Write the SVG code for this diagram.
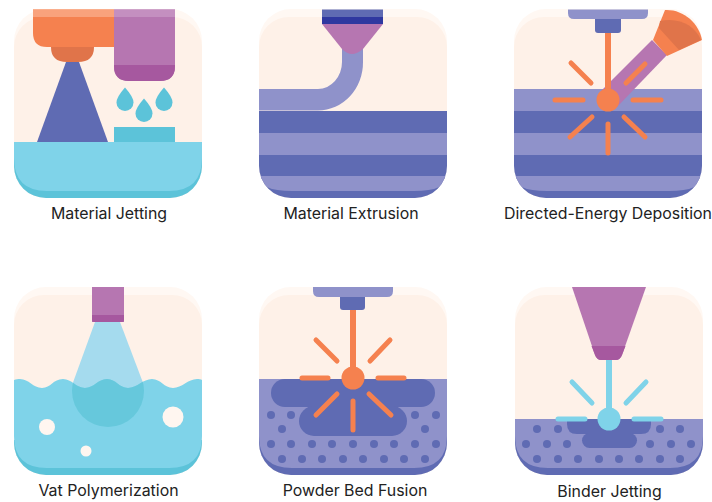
<svg xmlns="http://www.w3.org/2000/svg" width="712" height="502" viewBox="0 0 712 502">
<style>
.label{font-family:"Inter","Liberation Sans",sans-serif;font-size:15.9px;fill:#222;text-anchor:middle}
.ray{fill:none;stroke:#f5814f;stroke-width:5;stroke-linecap:round}
.blue{fill:none;stroke:#7fd3e9;stroke-width:5;stroke-linecap:round}
.cream{fill:#fef1e8}.top{fill:#fff8f3}
.dk{fill:#5f6bb3}.lt{fill:#8f92ca}.sky{fill:#7fd3e9}.teal{fill:#5cc3d9}
.pu{fill:#b676b1}.pd{fill:#a6589f}.or{fill:#f5814f}.od{fill:#e0744a}
.dot{fill:#5f6bb3}
</style>
<defs>
<clipPath id="c1"><rect x="14" y="9" width="188" height="189" rx="32"/></clipPath>
<clipPath id="c2"><rect x="259" y="9" width="188" height="189" rx="32"/></clipPath>
<clipPath id="c3"><rect x="514" y="9" width="188" height="189" rx="32"/></clipPath>
<clipPath id="c4"><rect x="14" y="287" width="188" height="188" rx="32"/></clipPath>
<clipPath id="c5"><rect x="259" y="287" width="188" height="188" rx="32"/></clipPath>
<clipPath id="c6"><rect x="515" y="287" width="188" height="188" rx="32"/></clipPath>
<clipPath id="wave"><path d="M14 380C16 379 18 379 20 379C29 379 33 388 42 388C51 388 53 379 63 379C72 379 76 388 85 388C94 388 98 379 107 379C116 379 119 388 128 388C137 388 143 379 152 379C161 379 164 388 173 388C182 388 188 379 197 379C199 379 201 379 202 380V475H14Z"/></clipPath>
</defs>
<rect width="712" height="502" fill="#fff"/>

<g id="material-jetting">
<g clip-path="url(#c1)">
<rect class="top" x="14" y="9" width="188" height="189"/><rect class="cream" x="14" y="17" width="188" height="181" rx="30"/>
<rect class="teal" x="14" y="142" width="188" height="56"/>
<path class="sky" d="M14 142H202V158Q202 191 169 191H47Q14 191 14 158Z"/>
</g>
<path class="or" d="M33 9.500H114V47H47Q33 47 33 33Z"/>
<path d="M33 9.500H114V17H33Z" fill="#f9a27c"/>
<path class="od" d="M51 47H94Q94 62 78 62H67Q51 62 51 47Z"/>
<path class="dk" d="M66 62H79L108 142H37Z"/>
<path class="pu" d="M114 9.500H175V66Q175 81 160 81H129Q114 81 114 66Z"/>
<path d="M114 9.500H175V17H114Z" fill="#c48fc0"/>
<path class="pd" d="M114 65H175V66Q175 81 160 81H129Q114 81 114 66Z"/>
<path class="teal" d="M125 87.500Q133.500 97 133.500 102.500A8.500 8.500 0 0 1 116.500 102.500Q116.500 97 125 87.500Z"/>
<path class="teal" d="M144 98.500Q152.500 108 152.500 113.500A8.500 8.500 0 0 1 135.500 113.500Q135.500 108 144 98.500Z"/>
<path class="teal" d="M164 87.500Q172.500 97 172.500 102.500A8.500 8.500 0 0 1 155.500 102.500Q155.500 97 164 87.500Z"/>
<rect class="teal" x="114" y="127" width="61" height="15"/>
<text class="label" x="109" y="218.500">Material Jetting</text>
</g>

<g id="material-extrusion">
<g clip-path="url(#c2)">
<rect class="top" x="259" y="9" width="188" height="189"/><rect class="cream" x="259" y="17" width="188" height="181" rx="30"/>
<path class="lt" d="M259 89H318A24 27 0 0 0 342 62V48H363V62A45 48 0 0 1 318 110.500H259Z"/>
<rect class="dk" x="259" y="111" width="188" height="22"/>
<rect class="lt" x="259" y="133" width="188" height="22"/>
<rect class="dk" x="259" y="155" width="188" height="43"/>
<path class="lt" d="M259 176H447Q447 191 414 191H292Q259 191 259 176Z"/>
</g>
<rect class="dk" x="322" y="9.500" width="61" height="8"/>
<rect x="322" y="17" width="61" height="7" fill="#2f38a0"/>
<path class="pu" d="M322 24H383L363 49Q357 54 352 54Q347 54 342 49Z"/>
<text class="label" x="351" y="218.500">Material Extrusion</text>
</g>

<g id="directed-energy-deposition">
<g clip-path="url(#c3)">
<rect class="top" x="514" y="9" width="188" height="189"/><rect class="cream" x="514" y="17" width="188" height="181" rx="30"/>
<rect class="lt" x="514" y="89" width="188" height="22"/>
<rect class="dk" x="514" y="111" width="188" height="22"/>
<rect class="lt" x="514" y="133" width="188" height="22"/>
<rect class="dk" x="514" y="155" width="188" height="43"/>
<path class="lt" d="M514 176H702Q702 191 669 191H547Q514 191 514 176Z"/>
</g>
<path d="M568 9.500H648V13Q648 19 642 19H574Q568 19 568 13Z" fill="#8f92ca"/>
<path class="dk" d="M595 19H621V30Q621 33 618 33H598Q595 33 595 30Z"/>
<path class="pu" d="M652 40L667 55L617 107L601 91Z"/>
<path class="or" d="M665 10C683 9 699 23 702 40L667 56L653 40Z"/>
<path class="od" d="M660 21C680 17 695 26 701 40L679 50L659 28Z"/>
<rect class="or" x="605" y="33" width="6" height="60"/>
<circle class="or" cx="608" cy="100" r="11.500"/>
<g class="rays"><path class="ray" d="M571 63L591 83M555 100H583M633 100H661M592 117L570 137M608 124V153M624 117L645 137M626 83L645 64"/></g>
<text class="label" x="608" y="218.500">Directed-Energy Deposition</text>
</g>

<g id="vat-polymerization">
<g clip-path="url(#c4)">
<rect class="top" x="14" y="287" width="188" height="188"/><rect class="cream" x="14" y="295" width="188" height="180" rx="30"/>
<path d="M95 322H120L145 388H71Z" fill="#a5dbee"/>
<rect class="teal" x="14" y="440" width="188" height="35"/>
<path class="sky" clip-path="url(#wave)" d="M14 375H202V436Q202 468 169 468H47Q14 468 14 436Z"/>
<circle cx="108" cy="391" r="36" fill="#66c8dc" clip-path="url(#wave)"/>
<circle cx="47" cy="427" r="8" fill="#fff6f0"/>
<circle cx="86" cy="451" r="5.500" fill="#fff6f0"/>
<circle cx="173" cy="417" r="10.500" fill="#fff6f0"/>
</g>
<path class="pu" d="M92 287H124V322H92Z"/>
<path class="pd" d="M92 315H124V320Q124 322 122 322H94Q92 322 92 320Z"/>
<text class="label" x="108.500" y="496">Vat Polymerization</text>
</g>

<g id="powder-bed-fusion">
<g clip-path="url(#c5)">
<rect class="top" x="259" y="287" width="188" height="188"/><rect class="cream" x="259" y="295" width="188" height="180" rx="30"/>
<rect class="dk" x="259" y="379" width="188" height="96"/>
<path class="lt" d="M259 379H447V436Q447 468 414 468H292Q259 468 259 436Z"/>
<rect class="dk" x="271" y="379" width="164" height="28" rx="14"/>
<rect class="dk" x="299" y="406" width="108" height="30" rx="15"/>
<rect class="dk" x="312" y="400" width="82" height="10"/>
</g>
<g class="dots"><circle class="dot" cx="271" cy="415" r="4"/><circle class="dot" cx="291" cy="415" r="4"/><circle class="dot" cx="415" cy="415" r="4"/><circle class="dot" cx="436" cy="415" r="4"/><circle class="dot" cx="282" cy="429" r="4"/><circle class="dot" cx="425" cy="429" r="4"/><circle class="dot" cx="271" cy="444" r="4"/><circle class="dot" cx="291" cy="444" r="4"/><circle class="dot" cx="312" cy="444" r="4"/><circle class="dot" cx="332" cy="444" r="4"/><circle class="dot" cx="353" cy="444" r="4"/><circle class="dot" cx="374" cy="444" r="4"/><circle class="dot" cx="394" cy="444" r="4"/><circle class="dot" cx="415" cy="444" r="4"/><circle class="dot" cx="436" cy="444" r="4"/><circle class="dot" cx="282" cy="459" r="4"/><circle class="dot" cx="302" cy="459" r="4"/><circle class="dot" cx="322" cy="459" r="4"/><circle class="dot" cx="343" cy="459" r="4"/><circle class="dot" cx="363" cy="459" r="4"/><circle class="dot" cx="384" cy="459" r="4"/><circle class="dot" cx="404" cy="459" r="4"/><circle class="dot" cx="425" cy="459" r="4"/></g>
<path d="M313 287H393V291Q393 297 387 297H319Q313 297 313 291Z" fill="#8f92ca"/>
<path class="dk" d="M340 297H365V307Q365 310 362 310H343Q340 310 340 307Z"/>
<rect class="or" x="350" y="310" width="6" height="62"/>
<circle class="or" cx="353" cy="378" r="11.500"/>
<path class="ray" d="M316 340L337 361M390 340L370 361M302 378H328M378 378H404M337 394L316 415M353 401V430M369 394L391 415"/>
<text class="label" x="355" y="496">Powder Bed Fusion</text>
</g>

<g id="binder-jetting">
<g clip-path="url(#c6)">
<rect class="top" x="515" y="287" width="188" height="188"/><rect class="cream" x="515" y="295" width="188" height="180" rx="30"/>
<rect class="dk" x="515" y="419" width="188" height="56"/>
<path class="lt" d="M515 419H703V436Q703 468 670 468H548Q515 468 515 436Z"/>
<path class="dk" d="M567 419H651V424Q651 434 641 434H577Q567 434 567 424Z"/>
<rect class="dk" x="582" y="433" width="55" height="15" rx="7.500"/>
<rect class="dk" x="590" y="431" width="39" height="6"/>
</g>
<g class="dots"><circle class="dot" cx="537" cy="429" r="4"/><circle class="dot" cx="558" cy="429" r="4"/><circle class="dot" cx="660" cy="429" r="4"/><circle class="dot" cx="680" cy="429" r="4"/><circle class="dot" cx="526" cy="444" r="4"/><circle class="dot" cx="547" cy="444" r="4"/><circle class="dot" cx="567" cy="444" r="4"/><circle class="dot" cx="650" cy="444" r="4"/><circle class="dot" cx="671" cy="444" r="4"/><circle class="dot" cx="691" cy="444" r="4"/><circle class="dot" cx="537" cy="459" r="4"/><circle class="dot" cx="558" cy="459" r="4"/><circle class="dot" cx="578" cy="459" r="4"/><circle class="dot" cx="599" cy="459" r="4"/><circle class="dot" cx="619" cy="459" r="4"/><circle class="dot" cx="639" cy="459" r="4"/><circle class="dot" cx="660" cy="459" r="4"/><circle class="dot" cx="680" cy="459" r="4"/></g>
<path class="pu" d="M572 287H646L622 355Q620 360 616 360H601Q597 360 595 355Z"/>
<path class="pd" d="M591.500 346H625.500L622 355Q620 360 616 360H601Q597 360 595 355Z"/>
<rect class="sky" x="606" y="360" width="6" height="55"/>
<circle class="sky" cx="609" cy="419" r="11.500"/>
<path class="blue" d="M572 382L592 403M646 382L626 403M558 419H585M634 419H661"/>
<text class="label" x="609.500" y="497">Binder Jetting</text>
</g>
</svg>
